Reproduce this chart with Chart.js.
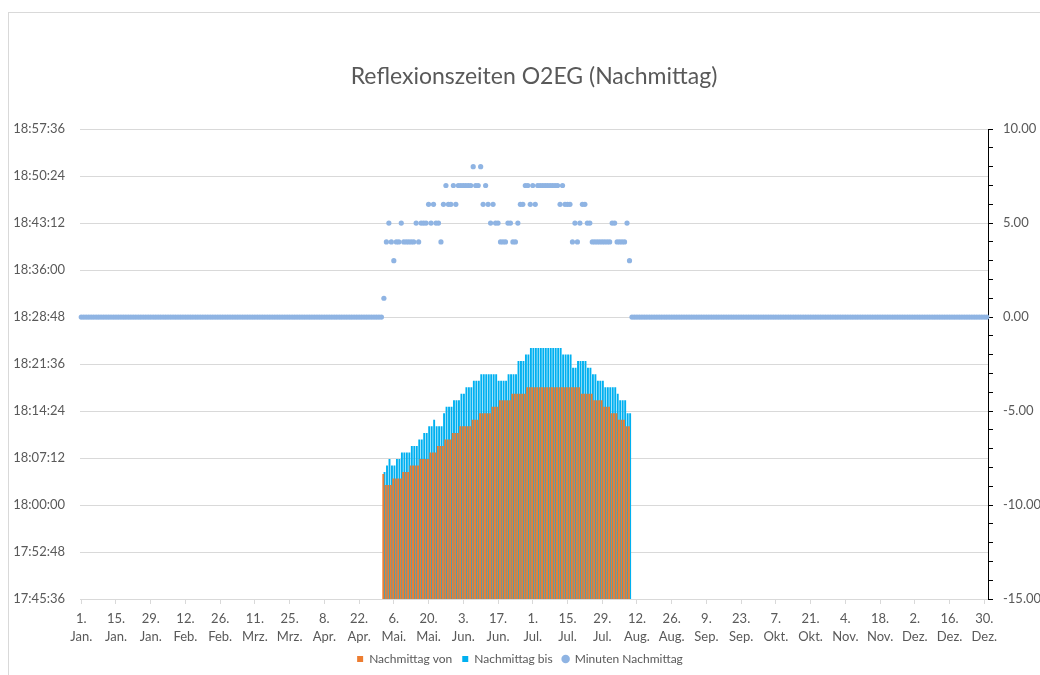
<!DOCTYPE html>
<html>
<head>
<meta charset="utf-8">
<title>Reflexionszeiten O2EG (Nachmittag)</title>
<script src="https://cdn.jsdelivr.net/npm/chart.js@4/dist/chart.umd.min.js"></script>
<style>
  html, body { margin: 0; padding: 0; background: #fff; }
  #frame {
    position: absolute; left: 8px; top: 12px; width: 1032px; height: 663px;
    border-left: 1px solid #d9d9d9; border-top: 1px solid #d9d9d9;
  }
  #wrap { position: absolute; left: 0; top: 0; width: 1040px; height: 675px; }
</style>
</head>
<body>
<div id="frame"></div>
<div id="wrap"><canvas id="chart"></canvas></div>
<script>
// ── Daten ─────────────────────────────────────────────────────────────────────

const YEAR        = 2020;           // Schaltjahr (26. Feb. + 14 = 11. Mrz.)
const N_DAYS      = 366;
const LABEL_EVERY = 14;
const MONTHS      = ['Jan.', 'Feb.', 'Mrz.', 'Apr.', 'Mai.', 'Jun.',
                     'Jul.', 'Aug.', 'Sep.', 'Okt.', 'Nov.', 'Dez.'];

// Reflexionsfenster: Tag 122 (2. Mai) .. Tag 221 (9. Aug.)
const FIRST_DAY = 122;

// Minuten nach 18:00 Uhr
const VON_MIN = [
  4.7, 3, 3, 3, 4, 4, 4, 4, 5, 5, 5, 6, 6, 6, 6, 7, 7, 7, 7, 8,
  8, 8, 9, 9, 9, 10, 10, 10, 11, 11, 11, 12, 12, 12, 12, 12, 13, 13, 13, 14,
  14, 14, 14, 14, 15, 15, 15, 16, 16, 16, 16, 16, 17, 17, 17, 17, 17, 17, 18, 18,
  18, 18, 18, 18, 18, 18, 18, 18, 18, 18, 18, 18, 18, 18, 18, 18, 18, 18, 18, 18,
  17, 17, 17, 17, 17, 16, 16, 16, 16, 15, 15, 15, 14, 14, 14, 13, 13, 13, 12, 12,
];

const BIS_MIN = [
  5, 6, 7, 6, 6, 7, 7, 8, 8, 8, 8, 9, 9, 9, 10, 10, 11, 11, 12, 12,
  13, 12, 12, 12, 14, 15, 15, 15, 16, 16, 16, 17, 17, 18, 18, 18, 19, 19, 19, 20,
  20, 20, 20, 20, 20, 20, 19, 19, 19, 19, 20, 20, 20, 20, 22, 22, 22, 23, 23, 24,
  24, 24, 24, 24, 24, 24, 24, 24, 24, 24, 24, 24, 23, 23, 23, 23, 21, 21, 22, 22,
  22, 22, 21, 21, 20, 20, 19, 19, 19, 18, 18, 18, 18, 18, 17, 16, 16, 16, 14, 14,
];

// Minuten Nachmittag (rechte Achse)
const MINUTEN = [
  1, 4, 5, 4, 3, 4, 4, 5, 4, 4, 4, 4, 4, 5, 4, 5, 5, 5, 6, 5,
  6, 5, 5, 4, 6, 7, 6, 6, 7, 6, 7, 7, 7, 7, 7, 7, 8, 7, 7, 8,
  6, 7, 6, 5, 6, 5, 5, 4, 4, 4, 5, 5, 4, 4, 5, 6, 6, 7, 7, 6,
  7, 6, 7, 7, 7, 7, 7, 7, 7, 7, 7, 6, 7, 6, 6, 6, 4, 5, 4, 5,
  6, 6, 5, 5, 4, 4, 4, 4, 4, 4, 4, 4, 5, 5, 4, 4, 4, 4, 5, 3,
];

// Achsen: linke Achse in Sekunden ab Mitternacht
const T_MIN  = 17 * 3600 + 45 * 60 + 36;   // 17:45:36
const T_MAX  = 18 * 3600 + 57 * 60 + 36;   // 18:57:36
const T_STEP = 432;                          // 0:07:12
const R_MIN  = -15;
const R_MAX  = 10;

// ── Aufbereitung ──────────────────────────────────────────────────────────────

const BASE_18 = 18 * 3600;
const TEXT    = '#595959';
const FONT    = 'Lato, "Open Sans", sans-serif';

const dayLabels = [];
for (let i = 0; i < N_DAYS; i++) {
  const d = new Date(YEAR, 0, 1 + i);
  dayLabels.push([d.getDate() + '.', MONTHS[d.getMonth()]]);
}

const pad = (n) => String(n).padStart(2, '0');
const fmtTime = (s) => `${pad(Math.floor(s / 3600))}:${pad(Math.floor(s / 60) % 60)}:${pad(Math.round(s % 60))}`;

const inWindow = (arr, map) => dayLabels.map((_, i) => {
  const k = i - FIRST_DAY;
  return k >= 0 && k < arr.length ? map(arr[k]) : null;
});

const vonData = inWindow(VON_MIN, m => BASE_18 + m * 60);
const bisData = inWindow(BIS_MIN, m => BASE_18 + m * 60);
const minData = dayLabels.map((_, i) => {
  const k = i - FIRST_DAY;
  return k >= 0 && k < MINUTEN.length ? MINUTEN[k] : 0;
});

// ── Chart ─────────────────────────────────────────────────────────────────────

new Chart(document.getElementById('chart'), {
  data: {
    labels: dayLabels,
    datasets: [
      {
        type: 'bar',
        label: 'Nachmittag von',
        data: vonData,
        yAxisID: 'y',
        backgroundColor: '#ED7D31',
        borderWidth: 0,
        categoryPercentage: 1,
        barPercentage: 1,
        pointStyle: 'rect',
      },
      {
        type: 'bar',
        label: 'Nachmittag bis',
        data: bisData,
        yAxisID: 'y',
        backgroundColor: '#00B0F0',
        borderWidth: 0,
        categoryPercentage: 1,
        barPercentage: 1,
        pointStyle: 'rect',
      },
      {
        type: 'line',
        label: 'Minuten Nachmittag',
        data: minData,
        yAxisID: 'y1',
        showLine: false,
        pointStyle: 'circle',
        pointRadius: 2.6,
        pointBorderWidth: 0,
        pointBackgroundColor: '#8FB4E3',
        backgroundColor: '#8FB4E3',
        borderColor: '#8FB4E3',
      },
    ],
  },
  options: {
    responsive: true,
    maintainAspectRatio: false,
    animation: false,
    layout: { padding: 0 },
    plugins: {
      title: {
        display: true,
        fullSize: false,
        text: 'Reflexionszeiten O2EG (Nachmittag)',
        color: TEXT,
        font: { family: FONT, size: 23, weight: 'normal' },
        padding: { top: 63, bottom: 38.5 },
      },
      legend: {
        position: 'bottom',
        labels: {
          color: TEXT,
          font: { family: FONT, size: 12 },
          usePointStyle: true,
          boxWidth: 6,
          boxHeight: 6,
          padding: 10,
          sort: (a, b) => a.datasetIndex - b.datasetIndex,
        },
      },
      tooltip: { enabled: false },
    },
    scales: {
      x: {
        type: 'category',
        offset: true,
        ticks: {
          autoSkip: false,
          minRotation: 0,
          maxRotation: 0,
          padding: 6,
          color: TEXT,
          font: { family: FONT, size: 13, lineHeight: 1.35 },
          callback: (v, i) => (i % LABEL_EVERY === 0 ? dayLabels[i] : ''),
        },
        grid: {
          offset: false,
          drawOnChartArea: false,
          tickLength: 5,
          color: (ctx) => (ctx.index % LABEL_EVERY === 0 ? '#d9d9d9' : 'rgba(0,0,0,0)'),
        },
        border: { display: true, color: '#d9d9d9' },
        afterFit: (s) => { s.height = 44; },
      },
      y: {
        position: 'left',
        min: T_MIN,
        max: T_MAX,
        ticks: {
          stepSize: T_STEP,
          padding: 15,
          color: TEXT,
          font: { family: FONT, size: 13 },
          callback: (v) => fmtTime(v),
        },
        grid: { color: '#d9d9d9', drawTicks: false },
        border: { display: false },
        afterFit: (s) => { s.width = 80; },
      },
      y1: {
        position: 'right',
        min: R_MIN,
        max: R_MAX,
        ticks: {
          stepSize: 1,
          autoSkip: false,
          padding: 10,
          color: TEXT,
          font: { family: FONT, size: 13 },
          callback: (v) => (v % 5 === 0 ? v.toFixed(2) : ''),
        },
        grid: { drawOnChartArea: false, color: '#000', tickLength: 5 },
        border: { display: true, color: '#000' },
        afterFit: (s) => { s.width = 52; },
      },
    },
  },
});
</script>
</body>
</html>
